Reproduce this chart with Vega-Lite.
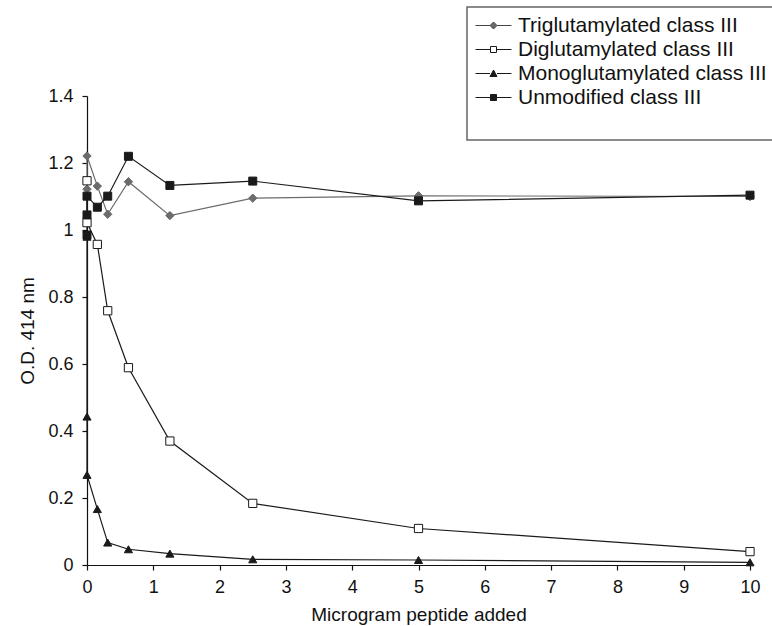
{
  "$schema": "https://vega.github.io/schema/vega-lite/v6.json",
  "autosize": {"type": "none"},
  "width": 663,
  "height": 469,
  "padding": {"left": 87, "top": 96, "right": 22, "bottom": 61},
  "background": "white",
  "config": {
    "view": {"stroke": null},
    "font": "Liberation Sans",
    "axis": {
      "grid": false,
      "domainColor": "#111",
      "domainWidth": 1.2,
      "tickColor": "#111",
      "tickWidth": 1.2,
      "tickSize": 5,
      "labelFont": "Liberation Sans",
      "labelFontSize": 18,
      "labelColor": "#111",
      "titleFont": "Liberation Sans",
      "titleFontSize": 19,
      "titleFontWeight": "normal",
      "titleColor": "#111"
    },
    "legend": {
      "strokeColor": "#666",
      "strokeWidth": 1.5,
      "fillColor": "white"
    }
  },
  "data": {
    "values": [
      {"s": "Triglutamylated class III", "k": 0, "x": 0, "y": 1.122},
      {"s": "Triglutamylated class III", "k": 1, "x": 0, "y": 1.221},
      {"s": "Triglutamylated class III", "k": 2, "x": 0.156, "y": 1.131},
      {"s": "Triglutamylated class III", "k": 3, "x": 0.3125, "y": 1.047},
      {"s": "Triglutamylated class III", "k": 4, "x": 0.625, "y": 1.144},
      {"s": "Triglutamylated class III", "k": 5, "x": 1.25, "y": 1.043},
      {"s": "Triglutamylated class III", "k": 6, "x": 2.5, "y": 1.095},
      {"s": "Triglutamylated class III", "k": 7, "x": 5, "y": 1.102},
      {"s": "Triglutamylated class III", "k": 8, "x": 10, "y": 1.1},
      {"s": "Diglutamylated class III", "k": 0, "x": 0, "y": 1.147},
      {"s": "Diglutamylated class III", "k": 1, "x": 0, "y": 1.022},
      {"s": "Diglutamylated class III", "k": 2, "x": 0.156, "y": 0.957},
      {"s": "Diglutamylated class III", "k": 3, "x": 0.3125, "y": 0.759},
      {"s": "Diglutamylated class III", "k": 4, "x": 0.625, "y": 0.589},
      {"s": "Diglutamylated class III", "k": 5, "x": 1.25, "y": 0.37},
      {"s": "Diglutamylated class III", "k": 6, "x": 2.5, "y": 0.184},
      {"s": "Diglutamylated class III", "k": 7, "x": 5, "y": 0.109},
      {"s": "Diglutamylated class III", "k": 8, "x": 10, "y": 0.04},
      {"s": "Monoglutamylated class III", "k": 0, "x": 0, "y": 0.98},
      {"s": "Monoglutamylated class III", "k": 1, "x": 0, "y": 0.443},
      {"s": "Monoglutamylated class III", "k": 2, "x": 0, "y": 0.269},
      {"s": "Monoglutamylated class III", "k": 3, "x": 0.156, "y": 0.167},
      {"s": "Monoglutamylated class III", "k": 4, "x": 0.3125, "y": 0.067},
      {"s": "Monoglutamylated class III", "k": 5, "x": 0.625, "y": 0.047},
      {"s": "Monoglutamylated class III", "k": 6, "x": 1.25, "y": 0.034},
      {"s": "Monoglutamylated class III", "k": 7, "x": 2.5, "y": 0.017},
      {"s": "Monoglutamylated class III", "k": 8, "x": 5, "y": 0.015},
      {"s": "Monoglutamylated class III", "k": 9, "x": 10, "y": 0.008},
      {"s": "Unmodified class III", "k": 0, "x": 0, "y": 0.985},
      {"s": "Unmodified class III", "k": 1, "x": 0, "y": 1.045},
      {"s": "Unmodified class III", "k": 2, "x": 0, "y": 1.101},
      {"s": "Unmodified class III", "k": 3, "x": 0.156, "y": 1.068},
      {"s": "Unmodified class III", "k": 4, "x": 0.3125, "y": 1.101},
      {"s": "Unmodified class III", "k": 5, "x": 0.625, "y": 1.22},
      {"s": "Unmodified class III", "k": 6, "x": 1.25, "y": 1.133},
      {"s": "Unmodified class III", "k": 7, "x": 2.5, "y": 1.146},
      {"s": "Unmodified class III", "k": 8, "x": 5, "y": 1.087},
      {"s": "Unmodified class III", "k": 9, "x": 10, "y": 1.104}
    ]
  },
  "encoding": {
    "x": {
      "field": "x",
      "type": "quantitative",
      "scale": {"domain": [0, 10], "nice": false, "zero": false},
      "axis": {
        "title": "Microgram peptide added",
        "values": [0, 1, 2, 3, 4, 5, 6, 7, 8, 9, 10],
        "labelPadding": 8,
        "titlePadding": 9,
        "labelFlush": false
      }
    },
    "y": {
      "field": "y",
      "type": "quantitative",
      "scale": {"domain": [0, 1.4], "nice": false},
      "axis": {
        "title": "O.D. 414 nm",
        "values": [0, 0.2, 0.4, 0.6, 0.8, 1, 1.2, 1.4],
        "format": "~g",
        "labelPadding": 9,
        "titlePadding": 10,
        "labelFlush": false
      }
    }
  },
  "resolve": {
    "scale": {"shape": "independent", "fill": "independent", "stroke": "independent", "size": "independent"}
  },
  "layer": [
    {
      "mark": {"type": "line", "strokeWidth": 1.2},
      "encoding": {
        "detail": {"field": "s"},
        "order": {"field": "k", "type": "quantitative"},
        "stroke": {
          "field": "s",
          "type": "nominal",
          "scale": {
            "domain": ["Triglutamylated class III", "Diglutamylated class III", "Monoglutamylated class III", "Unmodified class III"],
            "range": ["#6b6b6b", "#1a1a1a", "#1a1a1a", "#1a1a1a"]
          },
          "legend": null
        }
      }
    },
    {
      "mark": {"type": "point", "opacity": 1, "strokeWidth": 1},
      "encoding": {
        "shape": {
          "field": "s",
          "type": "nominal",
          "scale": {
            "domain": ["Triglutamylated class III", "Diglutamylated class III", "Monoglutamylated class III", "Unmodified class III"],
            "range": ["diamond", "square", "triangle-up", "square"]
          },
          "legend": null
        },
        "fill": {
          "field": "s",
          "type": "nominal",
          "scale": {
            "domain": ["Triglutamylated class III", "Diglutamylated class III", "Monoglutamylated class III", "Unmodified class III"],
            "range": ["#6b6b6b", "#ffffff", "#1a1a1a", "#1a1a1a"]
          },
          "legend": null
        },
        "stroke": {
          "field": "s",
          "type": "nominal",
          "scale": {
            "domain": ["Triglutamylated class III", "Diglutamylated class III", "Monoglutamylated class III", "Unmodified class III"],
            "range": ["#6b6b6b", "#1a1a1a", "#1a1a1a", "#1a1a1a"]
          },
          "legend": null
        },
        "size": {
          "field": "s",
          "type": "nominal",
          "scale": {
            "domain": ["Triglutamylated class III", "Diglutamylated class III", "Monoglutamylated class III", "Unmodified class III"],
            "range": [70, 64, 90, 81]
          },
          "legend": null
        }
      }
    },
    {
      "transform": [{"filter": "datum.k < 0"}],
      "mark": {"type": "point", "opacity": 1, "strokeWidth": 1, "filled": true},
      "encoding": {
        "shape": {
          "field": "s",
          "type": "nominal",
          "scale": {
            "domain": ["Triglutamylated class III", "Diglutamylated class III", "Monoglutamylated class III", "Unmodified class III"],
            "range": [
              "M-1,0H0.45M1.15,0H2.6M0.45,0L0.8,-0.35L1.15,0L0.8,0.35Z",
              "M-1,0H0.5M1.1,0H2.6M0.5,-0.3H1.1V0.3H0.5Z",
              "M-1,0H0.45M1.15,0H2.6M0.45,0.3L0.8,-0.35L1.15,0.3Z",
              "M-1,0H0.5M1.1,0H2.6M0.5,-0.3H1.1V0.3H0.5Z"
            ]
          },
          "legend": {
            "title": " ",
            "titleOrient": "bottom",
            "titleFontSize": 20,
            "titlePadding": 4,
            "orient": "none",
            "legendX": 380,
            "legendY": -89,
            "padding": 8,
            "symbolSize": 400,
            "symbolStrokeWidth": 1,
            "labelOffset": 22,
            "labelLimit": 400,
            "rowPadding": 2,
            "labelFont": "Liberation Sans",
            "labelFontSize": 21,
            "labelColor": "#111"
          }
        },
        "fill": {
          "field": "s",
          "type": "nominal",
          "scale": {
            "domain": ["Triglutamylated class III", "Diglutamylated class III", "Monoglutamylated class III", "Unmodified class III"],
            "range": ["#6b6b6b", "#ffffff", "#1a1a1a", "#1a1a1a"]
          }
        },
        "stroke": {
          "field": "s",
          "type": "nominal",
          "scale": {
            "domain": ["Triglutamylated class III", "Diglutamylated class III", "Monoglutamylated class III", "Unmodified class III"],
            "range": ["#444444", "#1a1a1a", "#1a1a1a", "#1a1a1a"]
          }
        }
      }
    }
  ]
}
